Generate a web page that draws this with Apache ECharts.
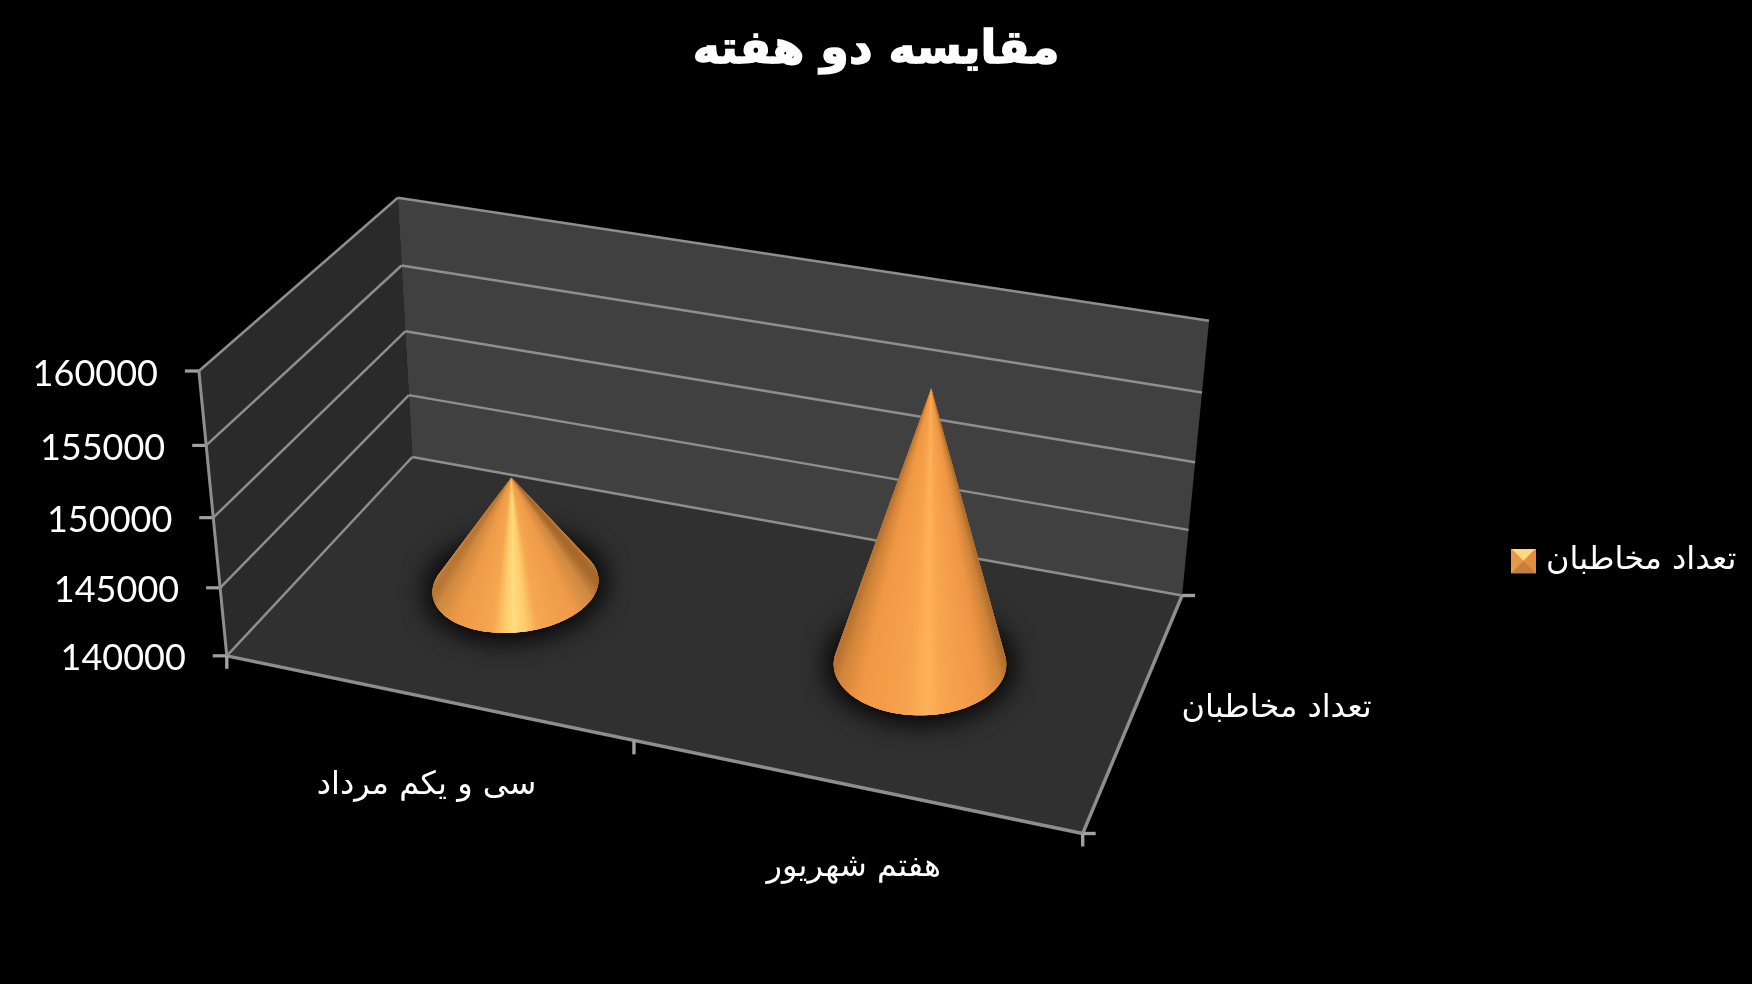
<!DOCTYPE html>
<html dir="ltr"><head><meta charset="utf-8">
<style>html,body{margin:0;padding:0;background:#000}#c{width:1752px;height:984px}</style>
<script src="https://cdn.jsdelivr.net/npm/echarts@6/dist/echarts.min.js"></script>
</head><body><div id="c"></div>
<script>
const titleText = 'مقایسه دو هفته';
const categories = ['سی و یکم مرداد', 'هفتم شهریور'];
const seriesName = 'تعداد مخاطبان';
const values = [148100, 159400];
const valueTicks = [140000, 145000, 150000, 155000, 160000];

const AR = '"DejaVu Sans"';
const NUM = 'Lato';
// projection of the chart box (u across, d depth, h height) on the page
const floorQuad = [[226.8,655.8],[1082.7,833.5],[1182.1,595.5],[412.3,457]];
const topQuad   = [[198.9,371],[1106,531.5],[1209,320.7],[397.8,197.8]];
function homography(q){
  const [A,B,C,D]=q;
  const dx1=B[0]-C[0],dx2=D[0]-C[0],sx=A[0]-B[0]+C[0]-D[0];
  const dy1=B[1]-C[1],dy2=D[1]-C[1],sy=A[1]-B[1]+C[1]-D[1];
  const det=dx1*dy2-dx2*dy1;
  const g=(sx*dy2-dx2*sy)/det,h=(dx1*sy-sx*dy1)/det;
  const a=B[0]-A[0]+g*B[0],b=D[0]-A[0]+h*D[0],c=A[0];
  const d=B[1]-A[1]+g*B[1],e=D[1]-A[1]+h*D[1],f=A[1];
  return (u,v)=>{const w=g*u+h*v+1;return [(a*u+b*v+c)/w,(d*u+e*v+f)/w];};
}
const F=homography(floorQuad),T=homography(topQuad);
function P(u,d,h){
  const a=F(u,d),b=T(u,d),k=h*(1-.06*(1-h));
  return [a[0]+(b[0]-a[0])*k,a[1]+(b[1]-a[1])*k];
}
function norm(api,params,cat,val){
  const c=api.coord([cat,val]),r=params.coordSys;
  return {u:(c[0]-r.x)/r.width,h:1-(c[1]-r.y)/r.height};
}
const lineGray='#8e8e8e';
function ln(a,b,w,col){return {type:'line',shape:{x1:a[0],y1:a[1],x2:b[0],y2:b[1]},style:{stroke:col||lineGray,lineWidth:w,lineCap:'butt'}};}
function poly(pts,fill){return {type:'polygon',shape:{points:pts},style:{fill:fill}};}

const shades=[
 [[0,'#b87636'],[.03,'#d08a40'],[.14,'#ee9a48'],[.36,'#f6a650'],[.44,'#ffcc6c'],[.49,'#ffdc80'],[.56,'#ffcc6c'],[.64,'#f6a650'],[.86,'#ee9a48'],[.96,'#cf8a42'],[1,'#a8682c']],
 [[0,'#b87434'],[.03,'#d08438'],[.14,'#ef9845'],[.42,'#f7a24e'],[.54,'#ffb25a'],[.62,'#f9a650'],[.88,'#ee9646'],[.97,'#cf8438'],[1,'#b07030']]
];
function hex(c){return [1,3,5].map(i=>parseInt(c.substr(i,2),16));}
function shade(st,t){
  t=Math.max(0,Math.min(1,t));
  for(let i=1;i<st.length;i++){ if(t<=st[i][0]){
    const k=(t-st[i-1][0])/(st[i][0]-st[i-1][0]),a=hex(st[i-1][1]),b=hex(st[i][1]);
    return 'rgb('+a.map((x,j)=>Math.round(x+(b[j]-x)*k)).join(',')+')';}}
  return st[st.length-1][1];
}
const coneRu=.097,coneRd=.215,coneD=.51,N=200;

function renderPanels(params,api){
  const a=P(0,0,0),b=P(1,0,0),c=P(1,1,0),d=P(0,1,0),a2=P(0,0,1),c2=P(1,1,1),d2=P(0,1,1);
  return {type:'group',children:[
    poly([a,a2,d2,d],'#2a2a2a'),
    poly([d,d2,c2,c],'#404040'),
    poly([a,b,c,d],'#303030')
  ]};
}
function renderTicks(params,api){
  const v=api.value(1);
  const n=norm(api,params,0,v),h=n.h;
  const a=P(0,0,h),d=P(0,1,h),c=P(1,1,h);
  return {type:'group',children:[
    ln(a,d,2.5),
    ln(d,c,2.5),
    ln([a[0]-14,a[1]],[a[0],a[1]],3.2,'#a0a0a0'),
    {type:'text',style:{text:String(v),x:a[0]-41,y:a[1]+3,fill:'#fff',fontFamily:NUM,fontSize:36,align:'right',verticalAlign:'middle'}}
  ]};
}
function renderAxes(params,api){
  const a=P(0,0,0),b=P(1,0,0),c=P(1,1,0),a2=P(0,0,1);
  const m=P(.5,0,0);
  return {type:'group',children:[
    ln(a,a2,3),
    ln(a,b,3.4),
    ln(b,c,3.4),
    ln(a,[a[0],a[1]+13],3.4,'#a0a0a0'),
    ln(m,[m[0],m[1]+14],3.4,'#a0a0a0'),
    ln(b,[b[0],b[1]+13],3.4,'#a0a0a0'),
    ln(b,[b[0]+13,b[1]],3.4,'#a0a0a0'),
    ln(c,[c[0]+13,c[1]],3.4,'#a0a0a0')
  ]};
}
function renderCategoryLabel(params,api){
  const i=api.value(0);
  const n=norm(api,params,i,valueTicks[0]);
  const p=P(n.u,0,0);
  return {type:'text',style:{text:categories[i],x:p[0]+1,y:p[1]+92-13*n.u,fill:'#fff',fontFamily:AR,fontSize:32,align:'center',verticalAlign:'middle'}};
}
function renderDepthLabel(params,api){
  const p=P(1,.5,0);
  return {type:'text',style:{text:seriesName,x:p[0]+141,y:p[1]+2,fill:'#fff',fontFamily:AR,fontSize:32,align:'center',verticalAlign:'middle'}};
}
function renderCone(params,api){
  const i=api.value(0),v=api.value(1);
  const n=norm(api,params,i,v);
  const apex=P(n.u,coneD,n.h);
  const ring=[];
  for(let k=0;k<N;k++){const t=k/N*2*Math.PI;ring.push(P(n.u+coneRu*Math.cos(t),coneD+coneRd*Math.sin(t),0));}
  // tangent points as seen from the apex
  let iL=0,iR=0,aL=1e9,aR=-1e9,iLow=0;
  ring.forEach((p,k)=>{const an=Math.atan2(p[0]-apex[0],p[1]-apex[1]);
    if(an<aL){aL=an;iL=k;} if(an>aR){aR=an;iR=k;} if(p[1]>ring[iLow][1])iLow=k;});
  // walk the front arc from left tangent to right tangent through the lowest point
  let arc=[];
  for(const s of [1,-1]){
    arc=[];let k=iL,hit=false;
    while(true){arc.push(ring[k]);if(k===iLow)hit=true;if(k===iR)break;k=(k+s+N)%N;}
    if(hit)break;
  }
  const xs=arc.map(p=>p[0]),xL=Math.min(...xs),xR=Math.max(...xs);
  const children=[];
  for(let r=0;r<2;r++){
    children.push({type:'polygon',shape:{points:ring},style:{fill:'#0a0a0a',shadowBlur:30,shadowColor:'rgba(4,4,4,1)'}});
  }
  children.push({type:'polygon',shape:{points:[apex].concat(arc)},style:{fill:'#f09a45'}});
  for(let k=0;k<arc.length-1;k++){
    const mx=(arc[k][0]+arc[k+1][0])/2;
    const col=shade(shades[i],(mx-xL)/(xR-xL));
    // each wedge runs under the next one so that no seams show
    const end=arc[Math.min(k+3,arc.length-1)];
    children.push({type:'polygon',shape:{points:[apex,arc[k],arc[k+1],end]},style:{fill:col}});
  }
  return {type:'group',children};
}
const hidden={animation:false,silent:true,clip:false};
const legendIcon='image://data:image/svg+xml;charset=utf-8,'+encodeURIComponent(
 '<svg xmlns="http://www.w3.org/2000/svg" width="48" height="48">'+
 '<rect width="48" height="48" fill="#d08a42"/>'+
 '<polygon points="0,0 48,0 24,24" fill="#ffd884"/>'+
 '<polygon points="0,0 24,24 0,48" fill="#e8984a"/>'+
 '<polygon points="48,0 24,24 48,48" fill="#e09040"/>'+
 '<polygon points="0,48 48,48 24,24" fill="#c4803c"/></svg>');

const chart=echarts.init(document.getElementById('c'),null,{renderer:'canvas'});
chart.setOption({
  backgroundColor:'#000',
  animation:false,
  title:{text:titleText,left:'center',top:23,textStyle:{color:'#fff',fontFamily:AR,fontWeight:'bold',fontSize:46,textBorderColor:'#fff',textBorderWidth:1.4}},
  legend:{data:[{name:seriesName,icon:legendIcon}],left:1506,top:540,itemWidth:25,itemHeight:25,itemGap:10,
    textStyle:{color:'#fff',fontFamily:AR,fontSize:32,padding:[0,0,0,5]},selectedMode:false},
  grid:{left:0,top:0,right:0,bottom:0},
  xAxis:{type:'category',data:categories,show:false},
  yAxis:{type:'value',min:valueTicks[0],max:valueTicks[valueTicks.length-1],interval:5000,show:false},
  series:[
    Object.assign({type:'custom',name:'panels',z:1,renderItem:renderPanels,data:[[0,valueTicks[0]]]},hidden),
    Object.assign({type:'custom',name:'ticks',z:2,renderItem:renderTicks,encode:{x:0,y:1},data:valueTicks.map(v=>[0,v])},hidden),
    Object.assign({type:'custom',name:'axes',z:3,renderItem:renderAxes,data:[[0,valueTicks[0]]]},hidden),
    Object.assign({type:'custom',name:'catLabels',z:3,renderItem:renderCategoryLabel,encode:{x:0,y:1},data:categories.map((c,i)=>[i,valueTicks[0]])},hidden),
    Object.assign({type:'custom',name:'depthLabel',z:3,renderItem:renderDepthLabel,data:[[0,valueTicks[0]]]},hidden),
    Object.assign({type:'custom',name:seriesName,z:4,renderItem:renderCone,encode:{x:0,y:1},itemStyle:{color:'#f09a45'},data:values.map((v,i)=>[i,v])},hidden)
  ]
});
</script></body></html>
